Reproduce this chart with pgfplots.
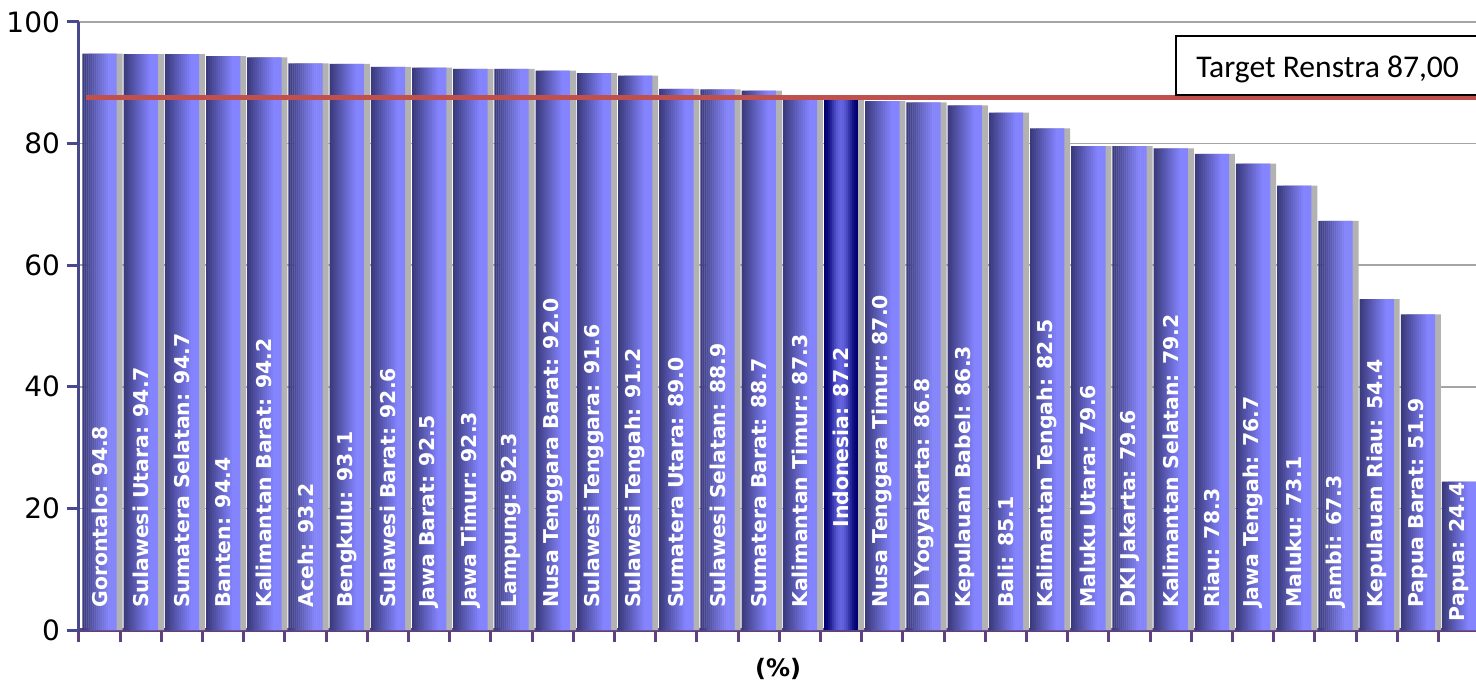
\documentclass[border=0pt]{standalone}
\usepackage{pgfplots}
\pgfplotsset{compat=1.18}
\usepackage{pgfplotstable}
\usepackage{fontspec}
\setmainfont{DejaVu Sans}
\newfontfamily\carlito{Carlito}
\definecolor{bardark}{RGB}{56,56,120}
\definecolor{barlight}{RGB}{132,132,255}
\definecolor{indodark}{RGB}{0,0,112}
\definecolor{indolight}{RGB}{100,100,225}
\definecolor{yaxcol}{RGB}{72,72,140}
\definecolor{xaxcol}{RGB}{96,64,128}
\definecolor{targetred}{RGB}{192,80,77}
\definecolor{gridgray}{RGB}{165,165,165}
\definecolor{shadowgray}{RGB}{178,178,178}

\pgfplotstableread[col sep=comma]{
x,v,ly,label
0,94.8,3.6,Gorontalo: 94.8
1,94.7,3.6,Sulawesi Utara: 94.7
2,94.7,3.6,Sumatera Selatan: 94.7
3,94.4,3.6,Banten: 94.4
4,94.2,3.6,Kalimantan Barat: 94.2
5,93.2,3.6,Aceh: 93.2
6,93.1,3.6,Bengkulu: 93.1
7,92.6,3.6,Sulawesi Barat: 92.6
8,92.5,3.6,Jawa Barat: 92.5
9,92.3,3.6,Jawa Timur: 92.3
10,92.3,3.6,Lampung: 92.3
11,92.0,3.6,Nusa Tenggara Barat: 92.0
12,91.6,3.6,Sulawesi Tenggara: 91.6
13,91.2,3.6,Sulawesi Tengah: 91.2
14,89.0,3.6,Sumatera Utara: 89.0
15,88.9,3.6,Sulawesi Selatan: 88.9
16,88.7,3.6,Sumatera Barat: 88.7
17,87.3,3.6,Kalimantan Timur: 87.3
19,87.0,3.6,Nusa Tenggara Timur: 87.0
20,86.8,3.6,DI Yogyakarta: 86.8
21,86.3,3.6,Kepulauan Babel: 86.3
22,85.1,3.6,Bali: 85.1
23,82.5,3.6,Kalimantan Tengah: 82.5
24,79.6,3.6,Maluku Utara: 79.6
25,79.6,3.6,DKI Jakarta: 79.6
26,79.2,3.6,Kalimantan Selatan: 79.2
27,78.3,3.6,Riau: 78.3
28,76.7,3.6,Jawa Tengah: 76.7
29,73.1,3.6,Maluku: 73.1
30,67.3,3.6,Jambi: 67.3
31,54.4,3.6,Kepulauan Riau: 54.4
32,51.9,3.6,Papua Barat: 51.9
33,24.4,1.4,Papua: 24.4
}\regions

\pgfplotstableread[col sep=comma]{
x,v,ly,label
18,87.2,16.8,Indonesia: 87.2
}\indo

\begin{document}
\begin{tikzpicture}
\begin{axis}[
  scale only axis, width=698.5pt, height=304pt,
  xmin=-0.5, xmax=33.41, ymin=0, ymax=100,
  axis lines=left,
  axis line style={-},
  x axis line style={xaxcol, line width=2pt},
  y axis line style={yaxcol, line width=1.5pt},
  ytick={0,20,40,60,80,100},
  xtick={-0.5,0.5,...,32.5},
  xticklabels={},
  tick align=outside,
  major tick length=6pt,
  x tick style={xaxcol, line width=1.5pt},
  y tick style={yaxcol, line width=1.5pt},
  ymajorgrids,
  grid style={gridgray, line width=0.8pt},
  clip=false,
  yticklabel style={font=\fontsize{14}{14}\selectfont},
  /pgf/number format/assume math mode=true,
]
\coordinate (bl) at (axis cs:-0.5,0);
% shadows
\addplot[ybar, bar width=17pt, bar shift=3pt, fill=shadowgray, draw=none] table[x=x,y=v]{\regions};
\addplot[ybar, bar width=17pt, bar shift=3pt, fill=shadowgray, draw=none] table[x=x,y=v]{\indo};
% bars drawn as vertical colour strips (gradient)
\pgfplotsinvokeforeach{0,...,16}{
  \pgfmathsetmacro\s{#1-8}
  \pgfmathtruncatemacro\p{min(100,100*((#1+0.5)/17)/0.78)}
  \pgfmathtruncatemacro\q{100*(sin(180*(#1+0.5)/17))^2}
  \edef\temp{\noexpand\addplot[ybar, bar width=1.15pt, bar shift=\s pt, fill=barlight!\p!bardark, draw=none] table[x=x,y=v]{\noexpand\regions};
  \noexpand\addplot[ybar, bar width=1.15pt, bar shift=\s pt, fill=indolight!\q!indodark, draw=none] table[x=x,y=v]{\noexpand\indo};}
  \temp
}
% labels
\addplot[draw=none, mark=none, nodes near coords, point meta=explicit symbolic,
  nodes near coords style={rotate=90, anchor=west, text=white, inner sep=0pt,
  font=\bfseries\fontsize{10.2}{10.2}\selectfont}]
  table[x=x, y=ly, meta=label]{\regions};
\addplot[draw=none, mark=none, nodes near coords, point meta=explicit symbolic,
  nodes near coords style={rotate=90, anchor=west, text=white, inner sep=0pt,
  font=\bfseries\fontsize{10.2}{10.2}\selectfont}]
  table[x=x, y=ly, meta=label]{\indo};
% target line
\addplot[targetred, line width=2.5pt, mark=none] coordinates {(-0.33,87.5) (33.6,87.5)};
\draw[line width=1pt, fill=white] (axis cs:26.13,88.0) rectangle (axis cs:34.5,97.7);
\node[anchor=base west, inner sep=0pt, font=\carlito\fontsize{15.8}{15.8}\selectfont] at (axis cs:26.61,90.95) {Target Renstra 87,00};
\node[font=\bfseries\fontsize{12}{12}\selectfont] at (axis cs:16.47,-6.4) {(\%)};
\end{axis}
\pgfresetboundingbox
\path ([shift={(-39.5pt,-25pt)}]bl) rectangle ([shift={(698.5pt,315pt)}]bl);
\end{tikzpicture}
\end{document}
